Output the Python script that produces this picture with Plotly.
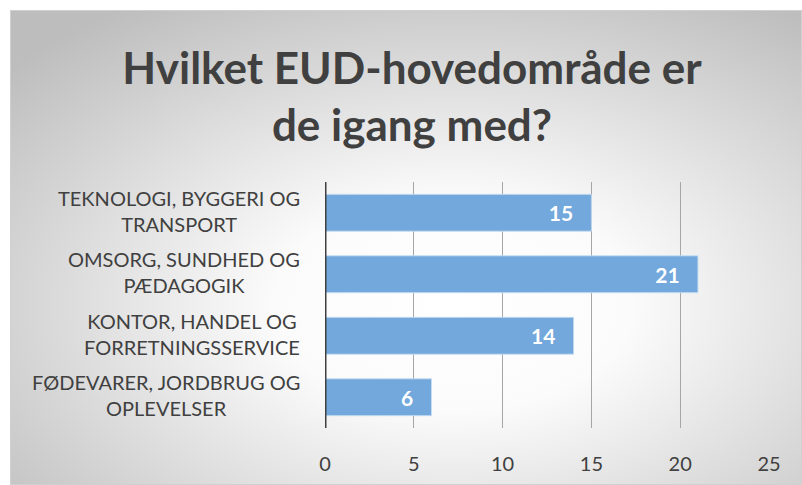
import base64
import plotly.graph_objects as go

categories = [
    "TEKNOLOGI, BYGGERI OG<br>TRANSPORT",
    "OMSORG, SUNDHED OG<br>PÆDAGOGIK",
    "KONTOR, HANDEL OG<br>FORRETNINGSSERVICE",
    "FØDEVARER, JORDBRUG OG<br>OPLEVELSER",
]
values = [15, 21, 14, 6]
tick_vals = [0, 5, 10, 15, 20, 25]
title_text = "Hvilket EUD-hovedområde er<br>de igang med?"

W, H = 802, 485
ML, MR, MT, MB = 325, 33, 182, 57
PW, PH = W - ML - MR, H - MT - MB

def px_x(p):
    return (p - ML) / PW

def px_y(p):
    return (H - MB - p) / PH

svg = (
    '<svg xmlns="http://www.w3.org/2000/svg" width="792" height="475">'
    '<defs><radialGradient id="g" cx="0.56" cy="0.62" r="0.75" '
    'gradientUnits="objectBoundingBox">'
    '<stop offset="0" stop-color="#ffffff"/>'
    '<stop offset="0.3" stop-color="#fbfbfb"/>'
    '<stop offset="1" stop-color="#bdbdbd"/>'
    '</radialGradient></defs>'
    '<rect width="792" height="475" fill="url(#g)"/></svg>'
)
bg_uri = "data:image/svg+xml;base64," + base64.b64encode(svg.encode()).decode()

fig = go.Figure()
fig.add_trace(go.Bar(
    y=categories,
    x=values,
    orientation="h",
    marker=dict(color="rgb(114,168,219)",
                line=dict(color="rgba(200,222,242,0.9)", width=1)),
    text=[f"{v}   " for v in values],
    textposition="inside",
    insidetextanchor="end",
    textfont=dict(family="Lato", size=21, color="white", weight="bold"),
    cliponaxis=False,
    hoverinfo="skip",
))

fig.update_layout(
    width=W, height=H,
    margin=dict(l=ML, r=MR, t=MT, b=MB, autoexpand=False),
    paper_bgcolor="white",
    plot_bgcolor="rgba(0,0,0,0)",
    showlegend=False,
    bargap=0.4,
    title=dict(
        text=title_text,
        x=412 / W, xanchor="center", xref="container",
        y=1 - 84 / H, yanchor="middle", yref="container",
        font=dict(family="Lato", size=44, color="#404040", weight="bold"),
    ),
    xaxis=dict(
        range=[0, 25], tickvals=tick_vals, showgrid=True,
        gridcolor="#a6a6a6", gridwidth=1, zeroline=False,
        showline=False, ticks="", tickfont=dict(family="Lato", size=20, color="#404040"),
        ticklabelstandoff=22, fixedrange=True,
    ),
    yaxis=dict(
        categoryorder="array", categoryarray=categories[::-1],
        showticklabels=False, showgrid=False, zeroline=False,
        showline=False, ticks="", fixedrange=True,
    ),
    images=[dict(
        source=bg_uri, xref="paper", yref="paper",
        x=px_x(10), y=px_y(10), sizex=792 / PW, sizey=475 / PH,
        xanchor="left", yanchor="top", sizing="stretch", layer="below",
    )],
    shapes=[
        dict(type="rect", xref="paper", yref="paper",
             x0=px_x(10.5), x1=px_x(801.5), y0=px_y(484.5), y1=px_y(10.5),
             line=dict(color="#d0d0d0", width=1), layer="below"),
        dict(type="line", xref="x", yref="paper", x0=0, x1=0, y0=0, y1=1,
             line=dict(color="#404040", width=3), layer="above"),
    ],
)

for cat in categories:
    fig.add_annotation(
        x=px_x(302), xref="paper", y=cat, yref="y",
        text=cat, showarrow=False, xanchor="right", yanchor="middle",
        align="center", yshift=2,
        font=dict(family="Lato", size=20, color="#404040"),
    )

fig.write_html("out.html")
